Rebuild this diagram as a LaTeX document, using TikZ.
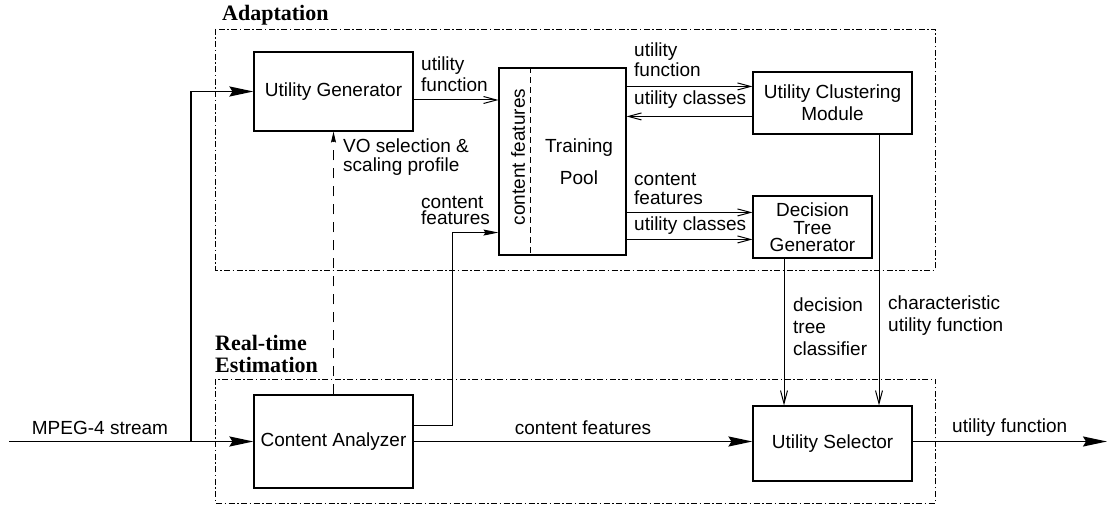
\documentclass[tikz,border=0pt]{standalone}
\usepackage{fontspec}
\setmainfont{Liberation Sans}
\newfontfamily\titlefont{Liberation Serif}
\usetikzlibrary{arrows.meta,calc}
\begin{document}
\begin{tikzpicture}[x=1pt,y=-1pt,
  every node/.style={font=\fontsize{19}{20}\selectfont, inner sep=0pt},
  blockbox/.style={draw, line width=1.1pt, align=center},
  groupbox/.style={draw, line width=0.9pt, dash pattern=on 6pt off 2.5pt on 1.5pt off 2.5pt},
  grouptitle/.style={font=\titlefont\bfseries\fontsize{22}{22}\selectfont, align=left, anchor=west},
  lbl/.style={align=left, anchor=west},
  thickarrow/.style={line width=1.8pt, -{Stealth[length=24pt,width=10pt,inset=3pt]}},
  thinarrow/.style={line width=1pt, -{Straight Barb[length=13pt,width=7pt]}},
  fillarrow/.style={line width=1pt, -{Stealth[length=15pt,width=6pt,inset=2pt]}},
  dasharrow/.style={line width=1pt, dash pattern=on 10pt off 8pt, -{Stealth[length=11pt,width=5pt,inset=1.5pt]}}
]
\useasboundingbox (0,0) rectangle (1109,510);

% group boxes
\draw[groupbox] (215,29) rectangle (935,270);
\draw[groupbox] (215,379) rectangle (935,503);
\node[grouptitle] (tAdapt) at (222,15) {Adaptation};
\node[grouptitle] (tReal) at (215,354) {Real-time\\Estimation};

% blocks
\node[blockbox, minimum width=159pt, minimum height=79pt] (UG) at (333.5,91.5) {Utility Generator};
\node[blockbox, minimum width=127pt, minimum height=187pt] (TP) at (562.5,161.5) {};
\node[blockbox, minimum width=159pt, minimum height=62pt] (UCM) at (832.5,103) {Utility Clustering\\[2pt]Module};
\node[blockbox, minimum width=119pt, minimum height=62pt] (DTG) at (812.5,227) {Decision\\[-2pt]Tree\\[-3pt]Generator};
\node[blockbox, minimum width=159pt, minimum height=93pt] (CA) at (333.5,441.5) {Content Analyzer};
\node[blockbox, minimum width=159pt, minimum height=75pt] (US) at (832.5,443.5) {Utility Selector};

% training pool inner
\coordinate (tpd1) at ([xshift=32pt]TP.north west);
\coordinate (tpd2) at ([xshift=32pt]TP.south west);
\draw[line width=1pt, dash pattern=on 6pt off 4pt] (tpd1) -- (tpd2);
\node[rotate=90] (tpcf) at (518,157) {content features};
\node (tptr) at (579,148) {Training};
\node (tppo) at (579,178) {Pool};

% MPEG input
\coordinate (in) at (9,441.5);
\coordinate (br) at (191,441.5);
\draw[thickarrow] (in) -- (CA.west);
\draw[line width=1.8pt] (br) -- (br |- UG.west);
\draw[thickarrow] (br |- UG.west) -- (UG.west);
\node (lmpeg) at (100,428) {MPEG-4 stream};

% UG -> TP
\coordinate (a1) at ([yshift=-8.5pt]UG.east);
\draw[thinarrow] (a1) -- (a1 -| TP.west);
\node[lbl] (l1) at (421,74.5) {utility\\[1pt]function};

% CA -> UG dashed
\draw[dasharrow] (CA.north) -- (UG.south);
\node[lbl] (l2) at (343,157.5) {VO selection \&\\[-1pt]scaling profile};

% CA -> TP
\coordinate (c1) at ([yshift=15.5pt]CA.east);
\coordinate (c2) at ([yshift=23pt]TP.south west);
\draw[fillarrow] (c1) -- ++(39,0) |- (c2);
\node[lbl] (l3) at (421,210) {content\\[-4pt]features};

% TP <-> UCM
\coordinate (u1) at ([yshift=-15pt]UCM.north west);
\coordinate (u2) at ([yshift=-45pt]UCM.north west);
\draw[thinarrow] (u1 -| TP.east) -- (u1);
\draw[thinarrow] (u2) -- (u2 -| TP.east);
\node[lbl] (l4) at (634,60) {utility\\[0pt]function};
\node[lbl] (l5) at (634,100) {utility classes};

% TP -> DTG
\coordinate (d1) at ([yshift=-17pt]DTG.north west);
\coordinate (d2) at ([yshift=-44pt]DTG.north west);
\draw[thinarrow] (d1 -| TP.east) -- (d1);
\draw[thinarrow] (d2 -| TP.east) -- (d2);
\node[lbl] (l6) at (634,188.5) {content\\[-1pt]features};
\node[lbl] (l7) at (634,226) {utility classes};

% DTG -> US, UCM -> US
\coordinate (e1) at ([xshift=-28.5pt]DTG.south);
\coordinate (e2) at ([xshift=46.5pt]UCM.south);
\draw[thinarrow] (e1) -- (e1 |- US.north);
\draw[thinarrow] (e2) -- (e2 |- US.north);
\node[lbl] (l8) at (793,327) {decision\\[2pt]tree\\[2pt]classifier};
\node[lbl] (l9) at (888,316) {characteristic\\[2pt]utility function};

% CA -> US
\coordinate (f1) at (CA.east);
\draw[thickarrow] (f1) -- (f1 -| US.west);
\node (l10) at (583,428) {content features};

% US -> out
\coordinate (out) at (1107,441.5);
\draw[thickarrow] (US.east |- out) -- (out);
\node[lbl] (l11) at (952,428) {utility function};
\end{tikzpicture}
\end{document}
